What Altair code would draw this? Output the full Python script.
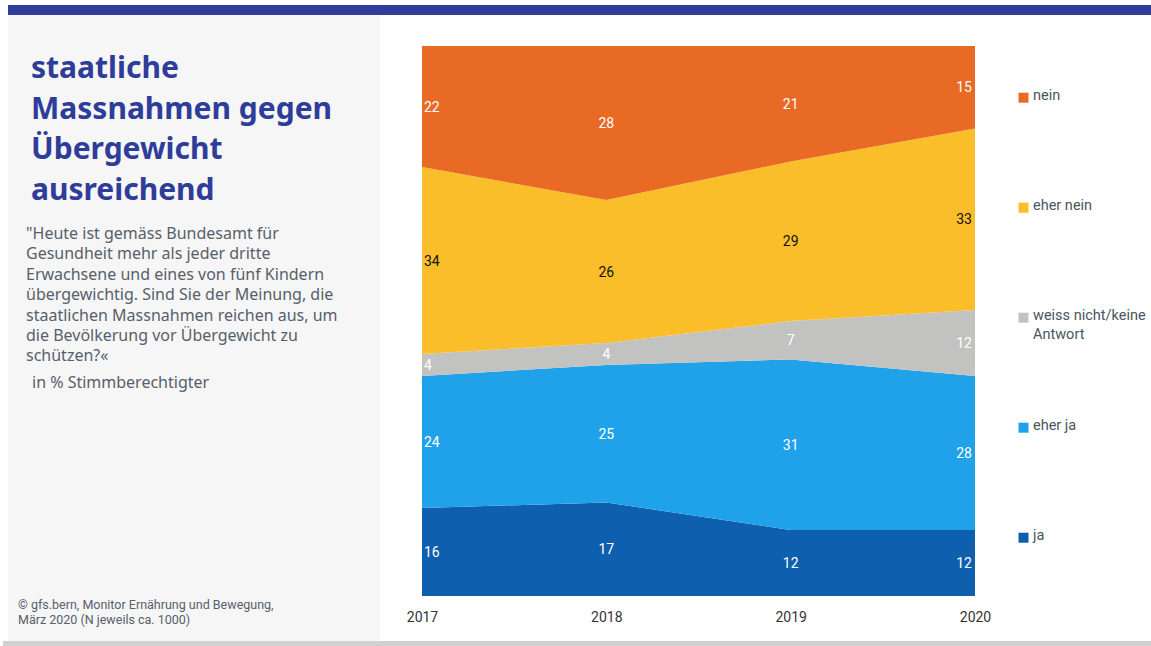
import altair as alt
import pandas as pd

years = [2017, 2018, 2019, 2020]
categories = ["ja", "eher ja", "weiss nicht/keine Antwort", "eher nein", "nein"]
ja = [16, 17, 12, 12]
eher_ja = [24, 25, 31, 28]
weiss = [4, 4, 7, 12]
eher_nein = [34, 26, 29, 33]
nein = [22, 28, 21, 15]
colors = ["#0E5FAE", "#1FA2EA", "#C2C2C0", "#FABE2A", "#E86A24"]

series = [ja, eher_ja, weiss, eher_nein, nein]
rows = []
for k, (cat, vals) in enumerate(zip(categories, series)):
    for y, v in zip(years, vals):
        rows.append({"year": y, "cat": cat, "ord": k, "value": v})
df = pd.DataFrame(rows)

legend_df = pd.DataFrame({
    "cat": categories,
    "label": ["ja", "eher ja", "weiss nicht/keine\nAntwort", "eher nein", "nein"],
})

FONT = "Noto Sans"
NARROW = "Roboto"
W, H = 553, 550
OX, OY = 422, 46  # plot origin in page

color_scale = alt.Scale(domain=categories, range=colors)
yscale = alt.Scale(domain=[0, 100], nice=False, zero=True)

base = alt.Chart(df)

area = base.mark_area(interpolate="linear").encode(
    x=alt.X("year:Q", scale=alt.Scale(domain=[2017, 2020], nice=False, zero=False),
            axis=alt.Axis(values=years, format="d", title=None, grid=False, domain=False,
                          ticks=False, labelFontSize=14, labelColor="#333333",
                          labelPadding=14, labelFont=NARROW, labelFlush=False)),
    y=alt.Y("value:Q", stack="zero", scale=yscale, axis=None),
    color=alt.Color("cat:N", scale=color_scale, legend=None),
    order=alt.Order("ord:Q", sort="ascending"),
)

stacked = base.transform_stack(
    stack="value", groupby=["year"], as_=["v0", "v1"], sort=[alt.SortField("ord", order="ascending")]
).transform_calculate(mid="(datum.v0 + datum.v1) / 2")

def labels(filter_expr, align, dx):
    return stacked.transform_filter(filter_expr).mark_text(
        align=align, dx=dx, baseline="middle", dy=1, fontSize=14, font=NARROW
    ).encode(
        x=alt.X("year:Q"),
        y=alt.Y("mid:Q", scale=yscale, axis=None),
        text=alt.Text("value:Q"),
        color=alt.condition(alt.datum.cat == "eher nein", alt.value("#111111"), alt.value("#FFFFFF")),
    )

lab_first = labels("datum.year == 2017", "left", 2)
lab_mid = labels("datum.year == 2018 || datum.year == 2019", "center", 0)
lab_last = labels("datum.year == 2020", "right", -3)

one = pd.DataFrame({"a": [0]})

def rect(x1, x2, y1, y2, fill):
    return alt.Chart(one).mark_rect(color=fill).encode(
        x=alt.value(x1 - OX), x2=alt.value(x2 - OX),
        y=alt.value(y1 - OY), y2=alt.value(y2 - OY),
    )

panel = rect(8, 380, 15, 641, "#F6F6F6")
topbar = rect(8, 1151, 5, 15, "#2F3E9A")
bottombar = rect(3, 1151, 641, 646, "#D0D0D0")

def txt(s, x, y, size, color, weight="normal", font=FONT, lh=None):
    kw = dict(align="left", baseline="top", fontSize=size, color=color, fontWeight=weight,
              font=font, lineBreak="\n")
    if lh:
        kw["lineHeight"] = lh
    return alt.Chart(one).mark_text(**kw).encode(
        x=alt.value(x - OX), y=alt.value(y - OY), text=alt.value(s)
    )

title = txt("staatliche\nMassnahmen gegen\nÜbergewicht\nausreichend", 31, 54, 30,
            "#2E3C9A", weight="bold", lh=40.5)
question = txt("\"Heute ist gemäss Bundesamt für\nGesundheit mehr als jeder dritte\n"
               "Erwachsene und eines von fünf Kindern\nübergewichtig. Sind Sie der Meinung, die\n"
               "staatlichen Massnahmen reichen aus, um\ndie Bevölkerung vor Übergewicht zu\nschützen?«",
               26, 226, 16, "#56606B", lh=20.4)
unit = txt("in % Stimmberechtigter", 32, 375, 16, "#56606B")
footer = txt("©  gfs.bern, Monitor Ernährung und Bewegung,\nMärz 2020 (N jeweils ca. 1000)",
             18, 599, 12.5, "#56606B", font=NARROW, lh=15)

leg_y = alt.Y("cat:N", scale=alt.Scale(type="point", domain=categories[::-1], padding=0.5, align=0.47),
              axis=None)
leg_sym = alt.Chart(legend_df).mark_square(size=100, opacity=1).encode(
    x=alt.value(1023.5 - OX), y=leg_y,
    color=alt.Color("cat:N", scale=color_scale, legend=None),
)
leg_txt = alt.Chart(legend_df).mark_text(
    align="left", baseline="top", dy=-9, fontSize=14.5, font=NARROW, color="#4A5562",
    lineBreak="\n", lineHeight=19,
).encode(x=alt.value(1033 - OX), y=leg_y, text="label:N")

chart = alt.layer(
    panel, topbar, bottombar, area, lab_first, lab_mid, lab_last,
    title, question, unit, footer, leg_sym, leg_txt,
).resolve_scale(y="independent").properties(
    width=W, height=H,
    autosize=alt.AutoSizeParams(type="none"),
    padding={"left": OX, "top": OY, "right": 1151 - OX - W, "bottom": 646 - OY - H},
    background="white",
).configure_view(stroke=None)

chart.save("out.html", embed_options={"renderer": "svg", "actions": False})
